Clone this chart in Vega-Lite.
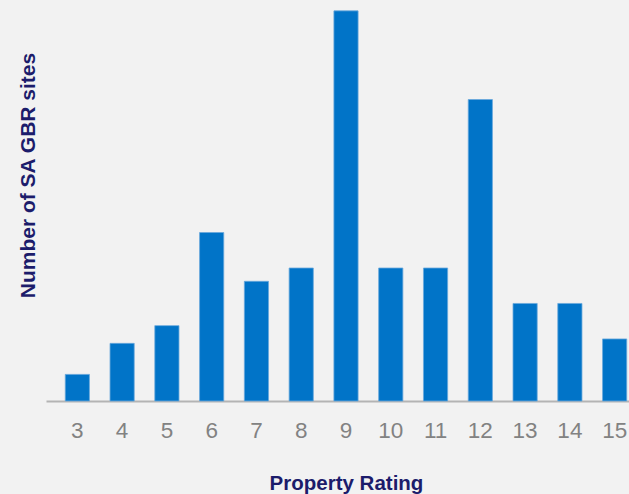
{
  "$schema": "https://vega.github.io/schema/vega-lite/v6.json",
  "autosize": "none",
  "width": 583,
  "height": 399,
  "padding": {"left": 46, "top": 2, "right": 0, "bottom": 93},
  "background": "#f2f2f2",
  "config": {"view": {"stroke": null}, "font": "Liberation Sans"},
  "data": {"values": [
    {"rating": "3", "sites": 6},
    {"rating": "4", "sites": 13},
    {"rating": "5", "sites": 17},
    {"rating": "6", "sites": 38},
    {"rating": "7", "sites": 27},
    {"rating": "8", "sites": 30},
    {"rating": "9", "sites": 88},
    {"rating": "10", "sites": 30},
    {"rating": "11", "sites": 30},
    {"rating": "12", "sites": 68},
    {"rating": "13", "sites": 22},
    {"rating": "14", "sites": 22},
    {"rating": "15", "sites": 14}
  ]},
  "mark": {"type": "bar", "color": "#0174c8", "stroke": "#6aa8dc", "strokeWidth": 0.8},
  "encoding": {
    "x": {
      "field": "rating", "type": "ordinal", "sort": null,
      "scale": {"range": [0, 600], "paddingInner": 0.46, "paddingOuter": 0.43},
      "axis": {
        "title": "Property Rating",
        "titleFont": "Liberation Sans", "titleFontSize": 20.5, "titleFontWeight": "bold", "titleColor": "#1c1c6b",
        "titleY": 88.6, "titleBaseline": "alphabetic",
        "labelAngle": 0, "labelFont": "Liberation Sans", "labelFontSize": 22.5, "labelColor": "#828282",
        "labelBaseline": "middle", "labelPadding": 29, "ticks": false, "tickSize": 0,
        "domainColor": "#b4b4b4", "domainWidth": 2, "grid": false
      }
    },
    "y": {
      "field": "sites", "type": "quantitative",
      "scale": {"domain": [0, 90], "nice": false},
      "axis": {
        "title": "Number of SA GBR sites",
        "titleFont": "Liberation Sans", "titleFontSize": 21, "titleFontWeight": "bold", "titleColor": "#1c1c6b",
        "titleAngle": 270, "titleX": -12, "titleY": 173, "titleAlign": "center", "titleBaseline": "alphabetic",
        "labels": false, "ticks": false, "domain": false, "grid": false
      }
    }
  }
}
